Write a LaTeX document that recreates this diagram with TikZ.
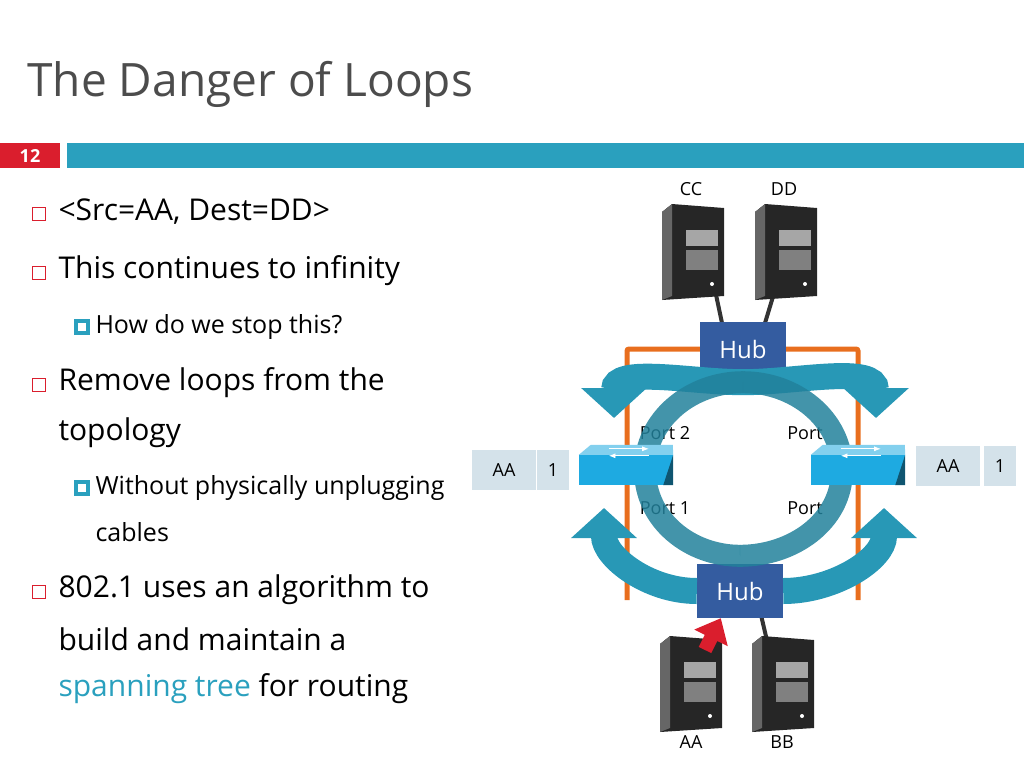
\documentclass[tikz,border=0pt]{standalone}
\usepackage{fontspec}
\setmainfont{Open Sans}
\usepackage{xcolor}
\definecolor{slidered}{RGB}{218,30,45}
\definecolor{slideblue}{RGB}{42,160,190}
\definecolor{hubblue}{RGB}{52,92,160}
\definecolor{loopteal}{RGB}{40,152,182}
\definecolor{wireorange}{RGB}{232,110,30}
\definecolor{tablegray}{RGB}{212,226,234}
\definecolor{swblue}{RGB}{30,170,225}
\usetikzlibrary{positioning,arrows.meta,shapes}

\tikzset{
  pic server/.pic={
    \fill[black!85] (-30,-40) -- (-20,-48) -- (32,-44) -- (32,44) -- (-30,48) -- cycle;
    \fill[black!60] (-30,-40) -- (-20,-48) -- (-20,44) -- (-30,48) -- cycle;
    \fill[black!35] (-6,-22) rectangle (26,-6);
    \fill[black!50] (-6,-2) rectangle (26,18);
    \fill[white] (20,32) circle (2);
  },
  hub/.style={fill=hubblue,text=white,minimum width=86pt,minimum height=54pt,font=\fontsize{24}{24}\selectfont},
  switch/.style={fill=swblue,minimum width=94pt,minimum height=30pt},
  cell/.style={fill=tablegray,minimum height=40pt,font=\fontsize{18}{18}\selectfont},
  loop/.style={loopteal,line width=26pt,-{Triangle[length=30pt,width=64pt]}},
  ring/.style={loopteal!85!black,opacity=0.85,line width=22pt},
  label/.style={font=\fontsize{18}{18}\selectfont},
  bul/.style={draw=slidered,thick,minimum size=13pt,inner sep=0pt},
  subbul/.style={draw=slideblue,line width=3.5pt,minimum size=12pt,inner sep=0pt},
  txt/.style={anchor=west,font=\fontsize{30}{30}\selectfont},
  subtxt/.style={anchor=west,font=\fontsize{25}{25}\selectfont}
}

\begin{document}
\begin{tikzpicture}[x=1pt,y=-1pt]
  \useasboundingbox (0,0) rectangle (1024,768);
  % title and bar
  \node[anchor=west,text=black!70,font=\fontsize{46}{46}\selectfont] (title) at (24,84) {The Danger of Loops};
  \fill[slidered] (0,143) rectangle (60,168);
  \node[text=white,font=\bfseries\fontsize{18}{18}\selectfont] (num) at (30,156) {12};
  \fill[slideblue] (67,143) rectangle (1024,168);

  % bullets
  \foreach \y/\t in {212/{<Src=AA, Dest=DD>},271/{This continues to infinity},383/{Remove loops from the},590/{802.1 uses an algorithm to}}
    {\node[bul] at (39,\y+2) {}; \node[txt] at (55,\y) {\t};}
  \node[txt] (l2) at (55,433) {topology};
  \node[txt] (l3) at (55,639) {build and maintain a};
  \node[txt] (l4) at (55,689) {\textcolor{slideblue}{spanning tree} for routing};
  \node[subbul] at (82,327) {};
  \node[subtxt] (s1) at (92,327) {How do we stop this?};
  \node[subbul] at (82,488) {};
  \node[subtxt] (s2) at (92,488) {Without physically unplugging};
  \node[subtxt] (s3) at (92,532) {cables};

  % network
  \draw[wireorange,line width=5pt,rounded corners=2pt] (627,600) -- (627,349) -- (858,349) -- (858,600);
  \node[label] (cc) at (691,189) {CC};
  \node[label] (dd) at (784,189) {DD};
  \node[label] (aa) at (691,742) {AA};
  \node[label] (bb) at (782,742) {BB};
  \draw[black!80,line width=4pt] (715,290) -- (722,323);
  \draw[black!80,line width=4pt] (775,290) -- (765,323);
  \draw[black!80,line width=4pt] (761,615) -- (768,645);
  \pic at (692,252) {pic server};
  \pic at (785,252) {pic server};
  \pic at (690,684) {pic server};
  \pic at (782,684) {pic server};
  \node[hub] (tophub) at (743,349) {Hub};
  \node[hub] (bothub) at (740,591) {Hub};
  \node[label] (p2) at (665,433) {Port 2};
  \node[label] (p3) at (805,433) {Port};
  \node[label] (p1) at (665,508) {Port 1};
  \node[label] (p4) at (805,508) {Port};
  \node[cell,minimum width=64pt] (laa) at (504,470) {AA};
  \node[cell,minimum width=32pt] (l1) at (553,470) {1};
  \node[cell,minimum width=64pt] (raa) at (948,466) {AA};
  \node[cell,minimum width=32pt] (r1) at (1000,466) {1};

  % looping frames
  \draw[loop] ([yshift=-6pt]tophub.south) to[out=180,in=90] (614,418);
  \draw[loop] ([yshift=-6pt]tophub.south) to[out=0,in=90] (876,418);
  \draw[loop] (bothub.west) to[out=180,in=-90] (604,508);
  \draw[loop] (bothub.east) to[out=0,in=-90] (884,508);
  \draw[ring] ([yshift=8pt]bothub.north) to[out=180,in=-90] (645,470) to[out=90,in=180] ([yshift=-6pt]tophub.south);
  \draw[ring] ([yshift=8pt]bothub.north) to[out=0,in=-90] (842,470) to[out=90,in=0] ([yshift=-6pt]tophub.south);
  \node[switch] (lsw) at (626,470) {};
  \node[switch] (rsw) at (858,470) {};
  \foreach \s in {lsw,rsw} {
    \fill[swblue!55!white] (\s.north west) -- ++(12,-10) -- ++(82,0) -- (\s.north east) -- cycle;
    \fill[swblue!50!black] (\s.north east) -- (\s.south east) -- ++(-10,0) -- cycle;
    \draw[white,thick,-{Latex}] ([xshift=30pt,yshift=6pt]\s.north west) -- ++(40,0);
    \draw[white,thick,-{Latex}] ([xshift=70pt,yshift=-1pt]\s.north west) -- ++(-40,0);
  }
  \draw[slidered,line width=14pt,-{Triangle[length=22pt,width=36pt]}] (705,650) -- ([xshift=24pt]bothub.south west);
\end{tikzpicture}
\end{document}
